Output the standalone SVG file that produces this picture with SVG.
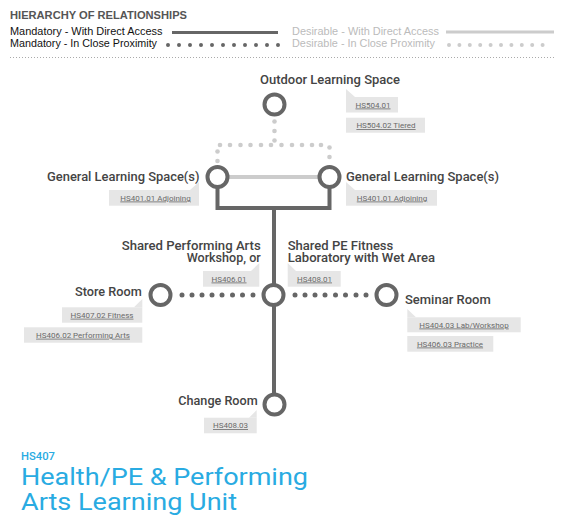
<svg xmlns="http://www.w3.org/2000/svg" width="565" height="531" viewBox="0 0 565 531">
<style>
.hdr{font-family:"Liberation Sans",Arial,sans-serif;}
.lbl{font-family:Roboto,"DejaVu Sans",sans-serif;font-weight:500;font-size:12.2px;fill:#444;}
.tag rect,.tag polygon{fill:#e6e6e6;}
.tag text{font-family:Roboto,"DejaVu Sans",sans-serif;font-size:8px;fill:#6a6a6a;text-decoration:underline;text-anchor:middle;}
.node circle{fill:#fff;stroke:#666;stroke-width:4;}
.solid{fill:none;stroke:#666;stroke-width:4;}
.lsolid{fill:none;stroke:#ccc;stroke-width:4;}
.ddot{fill:#666;}
.ldot{fill:#ccc;}
.title{font-family:Roboto,"DejaVu Sans",sans-serif;fill:#29abe2;}
</style>
<rect width="565" height="531" fill="#fff"/>

<g id="legend">
<text class="hdr" x="10" y="18.5" font-size="11.5" font-weight="bold" fill="#555" textLength="177" lengthAdjust="spacingAndGlyphs">HIERARCHY OF RELATIONSHIPS</text>
<text class="hdr" x="10" y="35" font-size="10.5" fill="#111" textLength="152.5" lengthAdjust="spacingAndGlyphs">Mandatory - With Direct Access</text>
<text class="hdr" x="10" y="47" font-size="10.5" fill="#111" textLength="147" lengthAdjust="spacingAndGlyphs">Mandatory - In Close Proximity</text>
<text class="hdr" x="292" y="35" font-size="10.5" fill="#bbb" textLength="147" lengthAdjust="spacingAndGlyphs">Desirable - With Direct Access</text>
<text class="hdr" x="292" y="47" font-size="10.5" fill="#bbb" textLength="143" lengthAdjust="spacingAndGlyphs">Desirable - In Close Proximity</text>
<line x1="172" y1="32.5" x2="278" y2="32.5" stroke="#666" stroke-width="3"/>
<line x1="446" y1="32" x2="554" y2="32" stroke="#ccc" stroke-width="3"/>
<line x1="168" y1="45" x2="279" y2="45" stroke="#666" stroke-width="4" stroke-linecap="round" stroke-dasharray="0 11"/>
<line x1="449" y1="45" x2="553" y2="45" stroke="#ccc" stroke-width="4" stroke-linecap="round" stroke-dasharray="0 10.4"/>
<line x1="10" y1="57.5" x2="555" y2="57.5" stroke="#aaa" stroke-width="1" stroke-dasharray="1 2"/>
</g>

<g id="connectors">
<g class="ldot">
<circle cx="274.5" cy="121.5" r="2.3"/><circle cx="274.5" cy="131" r="2.3"/><circle cx="274.5" cy="140.5" r="2.3"/>
<circle cx="220" cy="145" r="2.3"/><circle cx="230" cy="145" r="2.3"/><circle cx="240.5" cy="145" r="2.3"/><circle cx="250.5" cy="145" r="2.3"/><circle cx="261" cy="145" r="2.3"/><circle cx="271" cy="145" r="2.3"/><circle cx="281.5" cy="145" r="2.3"/><circle cx="292" cy="145" r="2.3"/><circle cx="302" cy="145" r="2.3"/><circle cx="312" cy="145" r="2.3"/><circle cx="321" cy="145" r="2.3"/>
<circle cx="217.5" cy="151.5" r="2.3"/><circle cx="217.5" cy="161" r="2.3"/>
<circle cx="329.5" cy="147.5" r="2.3"/><circle cx="329.5" cy="157" r="2.3"/>
</g>
<line class="lsolid" x1="227" y1="177" x2="320" y2="177"/>
<path class="solid" d="M217.5,188 V208 H329.5 V188"/>
<line class="solid" x1="274" y1="208" x2="274" y2="393"/>
<g class="ddot">
<circle cx="182" cy="295" r="2.5"/><circle cx="192" cy="295" r="2.5"/><circle cx="202" cy="295" r="2.5"/><circle cx="212" cy="295" r="2.5"/><circle cx="222" cy="295" r="2.5"/><circle cx="232.5" cy="295" r="2.5"/><circle cx="242.5" cy="295" r="2.5"/><circle cx="253" cy="295" r="2.5"/>
<circle cx="295" cy="295" r="2.5"/><circle cx="305" cy="295" r="2.5"/><circle cx="315" cy="295" r="2.5"/><circle cx="325" cy="295" r="2.5"/><circle cx="335.5" cy="295" r="2.5"/><circle cx="345.5" cy="295" r="2.5"/><circle cx="356" cy="295" r="2.5"/><circle cx="366" cy="295" r="2.5"/>
</g>
</g>

<g id="node-outdoor" class="node">
<circle cx="274.5" cy="104.5" r="10"/>
<text class="lbl" x="260" y="83.5" textLength="140" lengthAdjust="spacingAndGlyphs">Outdoor Learning Space</text>
<g class="tag"><polygon points="346,89 346,97 355,97"/><rect x="346" y="97" width="52" height="15.5"/><text x="373" y="107.5">HS504.01</text></g>
<g class="tag"><rect x="346" y="117.7" width="79" height="15"/><text x="386" y="128">HS504.02 Tiered</text></g>
</g>

<g id="node-general-left" class="node">
<circle cx="217.5" cy="177" r="10"/>
<text class="lbl" x="47" y="180.5" textLength="152.5" lengthAdjust="spacingAndGlyphs">General Learning Space(s)</text>
<g class="tag"><polygon points="199,182 199,190 190,190"/><rect x="109" y="190" width="90" height="15.7"/><text x="155.5" y="200.5">HS401.01 Adjoining</text></g>
</g>

<g id="node-general-right" class="node">
<circle cx="329.5" cy="177" r="10"/>
<text class="lbl" x="346" y="180.5" textLength="153" lengthAdjust="spacingAndGlyphs">General Learning Space(s)</text>
<g class="tag"><polygon points="346,182 346,190 355,190"/><rect x="346" y="190" width="91" height="15.7"/><text x="392" y="200.5">HS401.01 Adjoining</text></g>
</g>

<g id="node-shared" class="node">
<circle cx="273.5" cy="295" r="10"/>
<text class="lbl" x="121.7" y="249.5" textLength="139" lengthAdjust="spacingAndGlyphs">Shared Performing Arts</text>
<text class="lbl" x="186.7" y="261.8" textLength="74" lengthAdjust="spacingAndGlyphs">Workshop, or</text>
<text class="lbl" x="287.7" y="249.5" textLength="105.6" lengthAdjust="spacingAndGlyphs">Shared PE Fitness</text>
<text class="lbl" x="287.7" y="261.8" textLength="147.3" lengthAdjust="spacingAndGlyphs">Laboratory with Wet Area</text>
<g class="tag"><polygon points="259.3,263 259.3,271 251,271"/><rect x="203" y="271" width="56.3" height="15.7"/><text x="229" y="281.5">HS406.01</text></g>
<g class="tag"><polygon points="287.7,263 287.7,271 296,271"/><rect x="287.7" y="271" width="53" height="15.7"/><text x="314.5" y="281.5">HS408.01</text></g>
</g>

<g id="node-store" class="node">
<circle cx="160.5" cy="295" r="10"/>
<text class="lbl" x="75" y="296" textLength="66.7" lengthAdjust="spacingAndGlyphs">Store Room</text>
<g class="tag"><polygon points="142.3,299 142.3,307.3 134,307.3"/><rect x="62" y="307.3" width="80.3" height="15.4"/><text x="102" y="317.7">HS407.02 Fitness</text></g>
<g class="tag"><rect x="24" y="327.3" width="118.3" height="15.4"/><text x="83" y="337.7">HS406.02 Performing Arts</text></g>
</g>

<g id="node-seminar" class="node">
<circle cx="386.5" cy="295" r="10"/>
<text class="lbl" x="405" y="303.5" textLength="85.7" lengthAdjust="spacingAndGlyphs">Seminar Room</text>
<g class="tag"><polygon points="407.3,309 407.3,317.3 416,317.3"/><rect x="407.3" y="317.3" width="113.4" height="15"/><text x="464" y="327.5">HS404.03 Lab/Workshop</text></g>
<g class="tag"><rect x="407.3" y="336" width="86" height="15.7"/><text x="450" y="346.5">HS406.03 Practice</text></g>
</g>

<g id="node-change" class="node">
<circle cx="274.5" cy="404.5" r="10"/>
<text class="lbl" x="178.3" y="405" textLength="79.4" lengthAdjust="spacingAndGlyphs">Change Room</text>
<g class="tag"><polygon points="256.7,410 256.7,417.7 249,417.7"/><rect x="204" y="417.7" width="52.7" height="15.6"/><text x="230.5" y="428">HS408.03</text></g>
</g>

<g id="title">
<text class="title" x="21" y="460" font-size="11.5" font-weight="500" textLength="34" lengthAdjust="spacingAndGlyphs">HS407</text>
<text class="title" x="21" y="485" font-size="24" textLength="287" lengthAdjust="spacingAndGlyphs">Health/PE &amp; Performing</text>
<text class="title" x="21" y="510" font-size="24" textLength="216" lengthAdjust="spacingAndGlyphs">Arts Learning Unit</text>
</g>
</svg>
